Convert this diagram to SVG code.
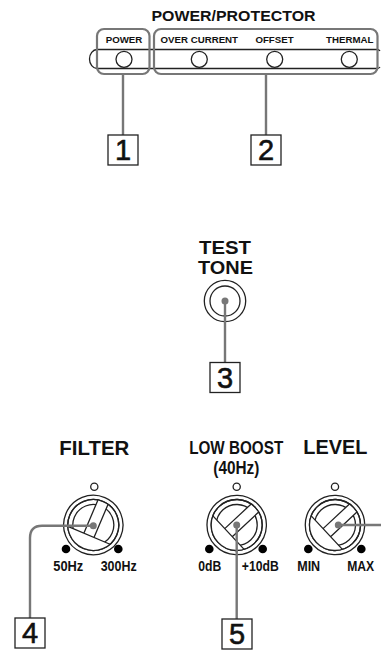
<svg xmlns="http://www.w3.org/2000/svg" width="381" height="651" viewBox="0 0 381 651">
<style>
text{font-family:"Liberation Sans",Arial,sans-serif;font-weight:bold;fill:#111;text-anchor:middle}
.s{font-size:9.700px}
.t{font-size:14px}
.h{font-size:19.500px}
.n{font-size:29px;font-weight:normal;stroke:#111;stroke-width:.6}
.b{fill:#fff;stroke:#222;stroke-width:1.300}
.o{fill:#fff;stroke:#222;stroke-width:1.300}
.l{fill:none;stroke:#222;stroke-width:1.300}
.c{fill:none;stroke:#777;stroke-width:2.400}
.g{fill:none;stroke:#777;stroke-width:2.200}
</style>
<defs>
<g id="knob">
<circle r="29.700" class="o"/><circle r="25.500" class="l"/><circle r="20.500" class="l"/>
<path d="M-22.900 11.200H22.900A25.500 25.500 0 0 1-22.900 11.200ZM-5.500 11.200V-24.900H5.500V11.200Z" fill="#fff"/>
<path class="l" d="M-22.900 11.200H22.900M-5.500 11.200V-24.900M5.500 11.200V-24.900"/>
<circle r="25.500" class="l"/>
</g>
</defs>
<g id="panel-top">
<text x="233.500" y="20.500" style="font-size:15px" textLength="164" lengthAdjust="spacingAndGlyphs">POWER/PROTECTOR</text>
<path class="l" d="M97 49.500H377M97 68.500H377M97 49.500A7.500 9.500 0 0 0 97 68.500M377 49.500Q379 49.500 380 51M377 68.500Q379 68.500 380 67"/>
</g>
<g id="power"><text x="124" y="43.300" class="s">POWER</text><circle cx="124" cy="59.300" r="8" class="o"/><rect x="97" y="29" width="52.500" height="45" rx="7" class="g"/></g>
<g id="protector">
<text x="199.300" y="43.300" class="s">OVER CURRENT</text><text x="274.500" y="43.300" class="s">OFFSET</text><text x="349.700" y="43.300" class="s">THERMAL</text>
<circle cx="199.300" cy="59.300" r="8" class="o"/><circle cx="274.700" cy="59.300" r="8" class="o"/><circle cx="349.300" cy="59.300" r="8" class="o"/>
<rect x="154" y="29" width="223.500" height="45" rx="7" class="g"/></g>
<g id="test-tone"><text x="225" y="253.500" style="font-size:18.500px" textLength="52" lengthAdjust="spacingAndGlyphs">TEST</text><text x="225.500" y="274.300" style="font-size:18.500px" textLength="55" lengthAdjust="spacingAndGlyphs">TONE</text>
<circle cx="225" cy="301" r="20.700" class="o"/><circle cx="225" cy="301" r="15" class="l"/></g>
<g id="filter"><text x="94.300" y="454.500" class="h" textLength="70" lengthAdjust="spacingAndGlyphs">FILTER</text><circle cx="94.300" cy="486.700" r="3.600" class="o"/><circle cx="66" cy="549" r="4.300"/><circle cx="118.300" cy="549" r="4.300"/>
<use href="#knob" transform="translate(93.300 525) rotate(23)"/>
<text x="68.300" y="571" class="t" textLength="30" lengthAdjust="spacingAndGlyphs">50Hz</text><text x="118.700" y="571" class="t" textLength="36" lengthAdjust="spacingAndGlyphs">300Hz</text></g>
<g id="low-boost"><text x="236.200" y="453.500" style="font-size:17.500px" textLength="94" lengthAdjust="spacingAndGlyphs">LOW BOOST</text><text x="236.300" y="473.500" style="font-size:17.500px" textLength="46" lengthAdjust="spacingAndGlyphs">(40Hz)</text>
<circle cx="236.700" cy="486.700" r="3.600" class="o"/><circle cx="209.300" cy="549" r="4.300"/><circle cx="262.700" cy="549" r="4.300"/>
<use href="#knob" transform="translate(236.700 525) rotate(47)"/>
<text x="209.700" y="571" class="t" textLength="23" lengthAdjust="spacingAndGlyphs">0dB</text><text x="260.300" y="571" class="t" textLength="37" lengthAdjust="spacingAndGlyphs">+10dB</text></g>
<g id="level"><text x="335.300" y="454" class="h" textLength="64" lengthAdjust="spacingAndGlyphs">LEVEL</text><circle cx="335" cy="486.700" r="3.600" class="o"/><circle cx="308.300" cy="549" r="4.300"/><circle cx="361.300" cy="549" r="4.300"/>
<use href="#knob" transform="translate(335 525) rotate(47)"/>
<text x="308.700" y="571" class="t" textLength="23" lengthAdjust="spacingAndGlyphs">MIN</text><text x="360.700" y="571" class="t" textLength="27" lengthAdjust="spacingAndGlyphs">MAX</text></g>
<g id="connectors">
<path class="c" d="M123 74V135M266 74V135M225 301V362M93.300 525.700H42Q30 525.700 30 538V618M236.700 525V619M338.300 525H381"/>
<circle cx="225" cy="301" r="3.500" fill="#777"/><circle cx="93.300" cy="525.700" r="3.500" fill="#777"/><circle cx="236.700" cy="525" r="3.500" fill="#777"/><circle cx="338.300" cy="525" r="3.500" fill="#777"/>
</g>
<g id="c1"><rect x="108" y="135" width="30" height="30" class="b"/><text x="123" y="160.300" class="n">1</text></g>
<g id="c2"><rect x="251" y="135" width="30" height="30" class="b"/><text x="266" y="160.300" class="n">2</text></g>
<g id="c3"><rect x="210" y="362.500" width="30" height="30" class="b"/><text x="225" y="387.800" class="n">3</text></g>
<g id="c4"><rect x="15" y="618" width="30" height="30" class="b"/><text x="30" y="643.300" class="n">4</text></g>
<g id="c5"><rect x="222" y="619" width="30" height="30" class="b"/><text x="237" y="644.300" class="n">5</text></g>
</svg>
